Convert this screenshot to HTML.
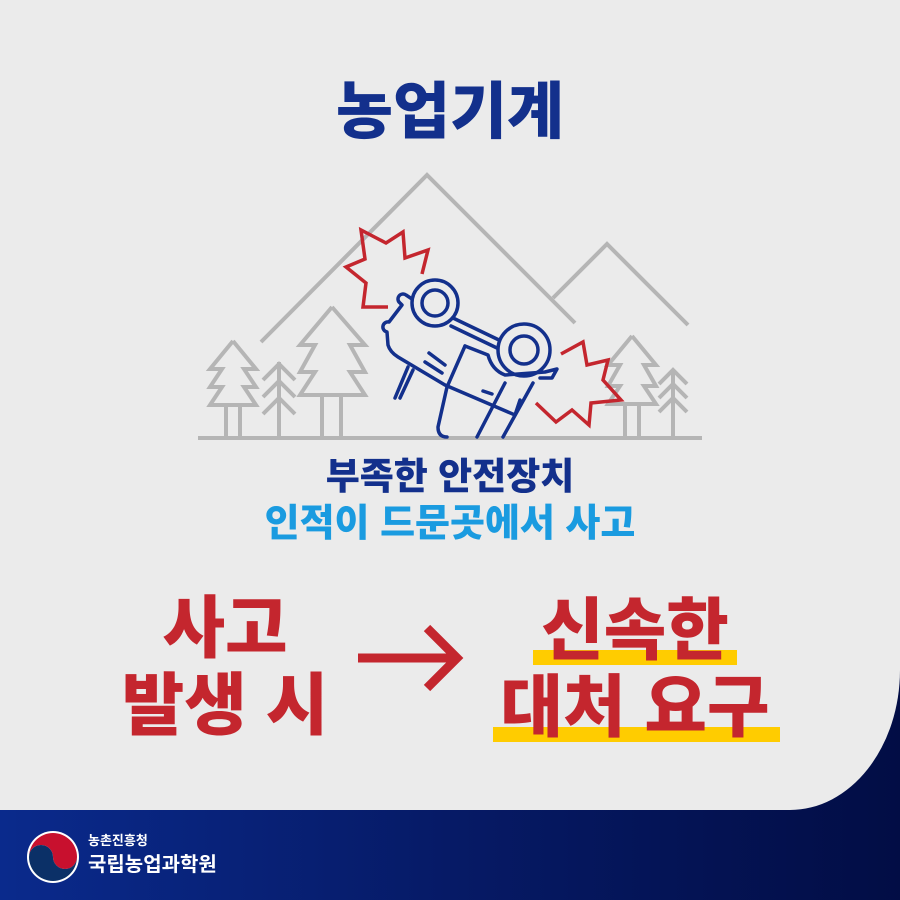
<!DOCTYPE html>
<html><head><meta charset="utf-8"><style>
html,body{margin:0;padding:0}
body{width:900px;height:900px;position:relative;overflow:hidden;background:linear-gradient(90deg,#0a2a8c 0%,#061a66 50%,#020d45 100%);font-family:"Liberation Sans","Noto Sans CJK KR","NanumGothic",sans-serif}
#bg{position:absolute;left:0;top:0;width:900px;height:810px;background:#ebebeb;border-bottom-right-radius:110px 140px}
.t{position:absolute;white-space:nowrap;font-weight:900;text-align:center;line-height:1}
.hl{position:absolute;background:#ffcc00}
</style></head><body>
<div id="bg"></div>
<div class="t" style="left:0;width:900px;top:82px;font-size:62px;color:#13308c">농업기계</div>
<svg style="position:absolute;left:0;top:0" width="900" height="900">
<g fill="none" stroke="#b5b5b5" stroke-width="4" stroke-linejoin="miter">
<polyline points="261,342 427,175 575,323"/>
<polyline points="553,298 607,244 688,325"/>
<line x1="198" y1="438" x2="702" y2="438"/>
<polyline points="233,341 210,369 222,369 210,387 222,387 210,405 256,405 244,387 256,387 244,369 256,369 233,341"/>
<line x1="226" y1="405" x2="226" y2="438"/><line x1="240" y1="405" x2="240" y2="438"/>
<line x1="279" y1="362" x2="279" y2="438"/>
<polyline points="263,380 279,364 295,380"/><polyline points="263,397 279,381 295,397"/><polyline points="263,414 279,398 295,414"/>
<polyline points="332,307 300,345 315,345 300,372 315,372 300,395 365,395 350,372 365,372 350,345 365,345 332,307"/>
<line x1="322" y1="395" x2="322" y2="438"/><line x1="341" y1="395" x2="341" y2="438"/>
<polyline points="632,336 608,365 620,365 608,386 620,386 608,404 656,404 644,386 656,386 644,365 656,365 632,336"/>
<line x1="625" y1="404" x2="625" y2="438"/><line x1="639" y1="404" x2="639" y2="438"/>
<line x1="673" y1="369" x2="673" y2="438"/>
<polyline points="659,384 673,370 687,384"/><polyline points="659,398 673,384 687,398"/><polyline points="659,412 673,398 687,412"/>
</g>
<g fill="none" stroke="#c4262e" stroke-width="3.5" stroke-linejoin="miter">
<polyline points="388,307 363,307 366,283 346,267 365,259 361,230 386,243 403,232 405,258 428,250 422,274"/>
<polyline points="561,354 583,342 587,365 608,360 603,380 621,400 591,403 589,425 572,410 556,422 536,403"/>
</g>
<g fill="none" stroke="#13308c" stroke-width="3.5" stroke-linecap="round" stroke-linejoin="round">
<circle cx="435" cy="303" r="23"/><circle cx="435" cy="303" r="13"/>
<circle cx="524" cy="350" r="26"/><circle cx="524" cy="350" r="14"/>
<path d="M412,299 l-6,-4 a5,5 0 0 0 -6,8 l2,2 L389,322 a5,5 0 0 0 -2,10 L388,345 Q390,352 398,357 L445,385 L515,415 L520,400"/>
<line x1="453" y1="318" x2="499" y2="340"/><line x1="451" y1="326" x2="497" y2="348"/>
<path d="M465,346 L488,355 Q492,370 505,375 L545,372 L557,369 L552,378 L540,378"/>
<path d="M465,346 L447,387 L438,427 Q438,437 447,437"/>
<line x1="477" y1="437" x2="505" y2="383"/><line x1="503" y1="437" x2="533" y2="383"/>
<line x1="408" y1="367" x2="395" y2="398"/><line x1="413" y1="370" x2="400" y2="398"/>
<line x1="429" y1="353" x2="445" y2="365"/><line x1="425" y1="362" x2="442" y2="373"/>
<line x1="483" y1="391" x2="492" y2="394"/>
</g>
<polyline points="358,658 455,658" fill="none" stroke="#c4262e" stroke-width="9"/>
<polyline points="427,628 457,658 427,688" fill="none" stroke="#c4262e" stroke-width="9"/>
<circle cx="53" cy="857" r="26" fill="#fff"/>
<path d="M29,857 a24,24 0 0 1 48,0 a12,12 0 0 1 -24,0 a12,12 0 0 0 -24,0z" fill="#c8102e"/>
<path d="M29,857 a24,24 0 0 0 48,0 a12,12 0 0 1 -24,0 a12,12 0 0 0 -24,0z" fill="#0b3067"/>
</svg>
<div class="t" style="left:0;width:900px;top:458px;font-size:37px;color:#13308c">부족한 안전장치</div>
<div class="t" style="left:0;width:900px;top:505px;font-size:38px;color:#1a9be0">인적이 드문곳에서 사고</div>
<div class="hl" style="left:533px;top:650px;width:204px;height:15px"></div>
<div class="hl" style="left:493px;top:727px;width:287px;height:15px"></div>
<div class="t" style="left:105px;width:240px;top:595px;font-size:68px;color:#c4262e">사고</div>
<div class="t" style="left:95px;width:260px;top:672px;font-size:68px;color:#c4262e">발생 시</div>
<div class="t" style="left:515px;width:240px;top:597px;font-size:68px;color:#c4262e">신속한</div>
<div class="t" style="left:485px;width:300px;top:674px;font-size:68px;color:#c4262e">대처 요구</div>
<div class="t" style="left:88px;top:834px;font-size:13px;color:#fff;font-weight:700;text-align:left">농촌진흥청</div>
<div class="t" style="left:88px;top:855px;font-size:20px;color:#fff;font-weight:700;text-align:left">국립농업과학원</div>
</body></html>
